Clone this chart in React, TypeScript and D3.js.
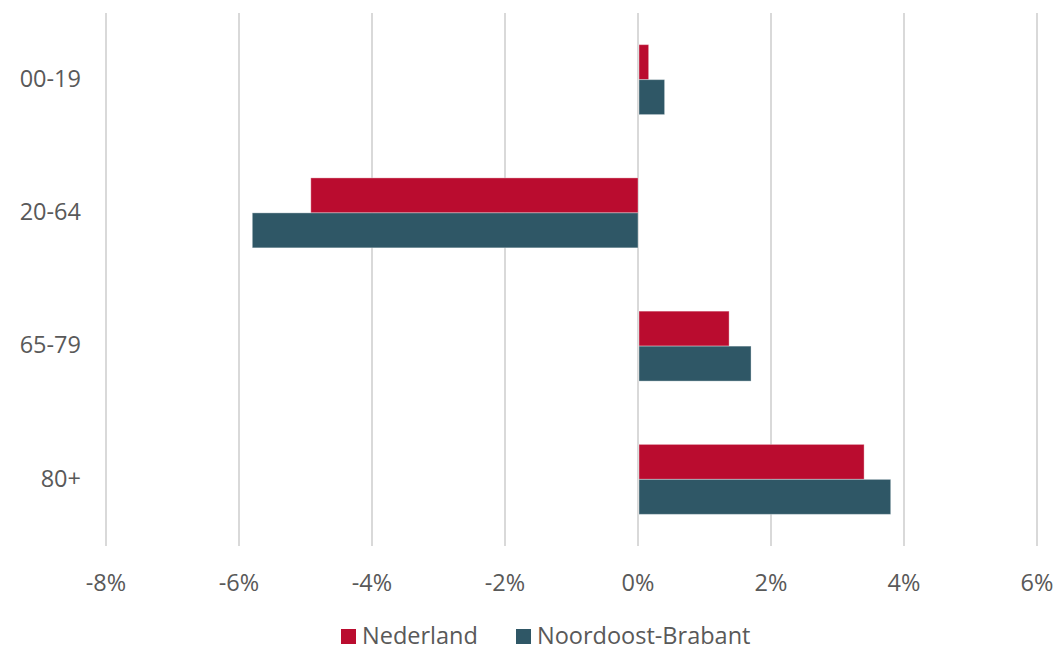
import React, { useEffect, useRef } from "react";
import * as d3 from "d3";

const categories = ["00-19", "20-64", "65-79", "80+"];
const seriesNames = ["Nederland", "Noordoost-Brabant"];
const nederland = [0.16, -4.92, 1.37, 3.40];
const noordoostBrabant = [0.40, -5.80, 1.70, 3.80];
const xTicks = [-8, -6, -4, -2, 0, 2, 4, 6];
const colors = ["#BA0C2F", "#2F5766"];

const W = 1056;
const H = 647;

export default function App() {
  const ref = useRef<SVGSVGElement>(null);

  useEffect(() => {
    document.body.style.margin = "0";
    const svg = d3.select(ref.current);
    svg.selectAll("*").remove();
    const font = "'Open Sans', sans-serif";
    const textColor = "#595959";
    const fs = 23.5;

    const x = d3.scaleLinear().domain([-8, 6]).range([106, 1037]);
    const y = d3
      .scaleBand<string>()
      .domain(categories)
      .range([13, 546])
      .paddingInner(0.475)
      .paddingOuter(0.2375);
    const inner = d3.scaleBand<string>().domain(seriesNames).range([0, y.bandwidth()]);

    // gridlines
    svg
      .append("g")
      .selectAll("line")
      .data(xTicks)
      .join("line")
      .attr("x1", (d) => x(d))
      .attr("x2", (d) => x(d))
      .attr("y1", 13)
      .attr("y2", 546)
      .attr("stroke", "#d9d9d9")
      .attr("stroke-width", 2);

    // tick labels
    svg
      .append("g")
      .selectAll("text")
      .data(xTicks)
      .join("text")
      .attr("x", (d) => x(d))
      .attr("y", 583)
      .attr("dy", "0.35em")
      .attr("text-anchor", "middle")
      .attr("font-family", font)
      .attr("font-size", fs)
      .attr("fill", textColor)
      .text((d) => `${d}%`);

    // category labels
    svg
      .append("g")
      .selectAll("text")
      .data(categories)
      .join("text")
      .attr("x", 81)
      .attr("y", (d) => (y(d) as number) + y.bandwidth() / 2 - 1)
      .attr("dy", "0.35em")
      .attr("text-anchor", "end")
      .attr("font-family", font)
      .attr("font-size", fs)
      .attr("fill", textColor)
      .text((d) => d);

    const series = [nederland, noordoostBrabant];
    series.forEach((vals, si) => {
      svg
        .append("g")
        .selectAll("rect")
        .data(vals)
        .join("rect")
        .attr("x", (d) => Math.min(x(0), x(d)) + (d >= 0 ? 1 : 0))
        .attr("width", (d) => Math.abs(x(d) - x(0)) - (d >= 0 ? 1 : 0))
        .attr("y", (_d, i) => (y(categories[i]) as number) + (inner(seriesNames[si]) as number))
        .attr("height", inner.bandwidth())
        .attr("fill", colors[si])
        .attr("stroke", "rgba(255,255,255,0.35)")
        .attr("stroke-width", 1);
    });

    // legend
    const legendItems = [
      { name: seriesNames[0], color: colors[0], x: 341 },
      { name: seriesNames[1], color: colors[1], x: 516 },
    ];
    const lg = svg.append("g");
    legendItems.forEach((it) => {
      lg.append("rect")
        .attr("x", it.x)
        .attr("y", 629)
        .attr("width", 15)
        .attr("height", 15)
        .attr("fill", it.color);
      lg.append("text")
        .attr("x", it.x + 21)
        .attr("y", 636)
        .attr("dy", "0.35em")
        .attr("font-family", font)
        .attr("font-size", fs)
        .attr("fill", textColor)
        .text(it.name);
    });
  }, []);

  return (
    <svg
      ref={ref}
      width={W}
      height={H}
      style={{ display: "block", position: "absolute", left: 0, top: 0, background: "#fff" }}
    />
  );
}
